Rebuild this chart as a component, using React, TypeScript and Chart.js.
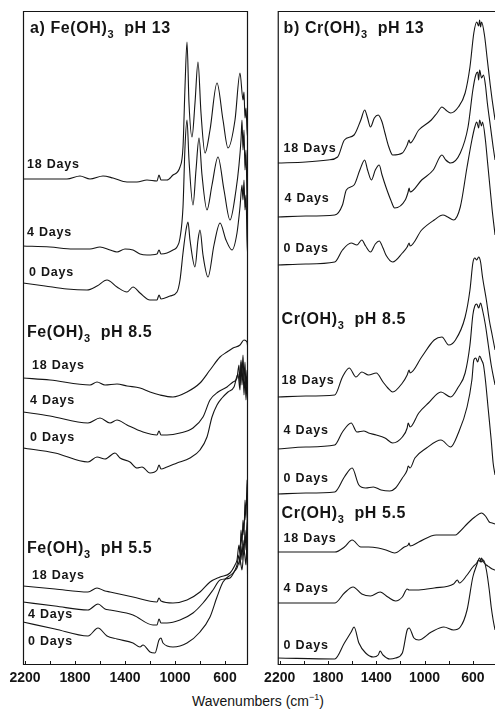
import React, { useEffect, useRef } from 'react';
import { Chart, registerables } from 'chart.js';
Chart.register(...registerables);

type Pt = [number, number];
const FONT = '"Liberation Sans", Arial, Helvetica, sans-serif';
const INK = '#151515';

// x-axis ticks (cm-1)
const tickValues = [2200, 2000, 1800, 1600, 1400, 1200, 1000, 800, 600, 400];
const tickLabels = [2200, 1800, 1400, 1000, 600];

// ---------- Panel a: Fe(OH)3 (wavenumber, offset absorbance) ----------
const feP13Day18: Pt[] = [[2216,485],[2040,485],[1864,485],[1760,488],[1680,485],[1576,488],[1496,486],[1384,482],[1304,482],[1224,484],[1144,483],[1128,489],[1112,484],[1064,484],[1016,489],[960,497],[936,517],[920,577],[904,622],[888,561],[864,527],[840,561],[816,602],[792,551],[760,511],[720,534],[664,581],[616,544],[576,516],[520,544],[480,591],[456,564],[448,572],[440,546],[432,556],[424,534],[416,524]];
const feP13Day4: Pt[] = [[2216,418],[2000,417],[1816,415],[1680,415],[1600,417],[1520,414],[1464,412],[1400,415],[1336,414],[1280,410],[1224,409],[1144,410],[1128,414],[1112,410],[1064,411],[1016,414],[984,417],[960,426],[936,457],[920,517],[904,544],[888,504],[856,459],[832,494],[808,526],[784,489],[744,454],[704,479],[656,507],[608,474],[560,444],[512,474],[488,499],[472,524],[464,544],[456,514],[448,534],[440,494],[432,514],[424,464],[416,434]];
const feP13Day0: Pt[] = [[2216,381],[2040,378],[1864,375],[1704,374],[1624,378],[1544,384],[1464,377],[1384,372],[1336,377],[1280,371],[1200,364],[1144,364],[1128,369],[1112,365],[1040,368],[984,372],[960,384],[936,411],[912,434],[896,442],[880,424],[840,397],[816,424],[800,434],[776,409],[736,387],[688,419],[640,441],[592,424],[544,414],[504,431],[480,457],[464,479],[456,464],[448,484],[440,454],[432,469],[424,424],[416,404]];
const feP85Day18: Pt[] = [[2216,286],[2000,284],[1680,279],[1624,282],[1560,279],[1464,280],[1384,278],[1280,276],[1200,272],[1120,269],[1016,267],[904,272],[800,281],[720,294],[640,307],[584,312],[536,316],[480,319],[448,324],[424,322],[416,314]];
const feP85Day4: Pt[] = [[2216,252],[2000,248],[1696,241],[1600,246],[1520,241],[1464,244],[1384,239],[1256,232],[1144,229],[1128,233],[1112,229],[1064,229],[960,231],[856,236],[776,247],[720,264],[656,272],[584,277],[536,282],[504,286],[488,299],[480,279],[472,304],[464,289],[456,309],[448,284],[440,302],[432,274],[424,294],[416,254]];
const feP85Day0: Pt[] = [[2216,216],[1960,211],[1696,202],[1624,207],[1560,205],[1480,211],[1440,206],[1360,202],[1304,196],[1264,197],[1200,191],[1144,194],[1128,199],[1112,195],[1064,197],[984,201],[880,206],[800,214],[744,227],[704,247],[664,259],[624,266],[576,272],[528,277],[496,290],[480,274],[472,302],[464,279],[456,296],[448,269],[440,289],[432,264],[424,284],[416,244]];
const feP55Day18: Pt[] = [[2216,78],[1960,75],[1696,72],[1624,76],[1560,73],[1520,72],[1336,67],[1144,62],[1128,66],[1112,63],[1016,61],[904,64],[800,72],[720,82],[640,87],[560,91],[520,99],[504,104],[488,119],[480,109],[472,134],[464,119],[456,144],[448,129],[440,164],[432,144],[424,184],[416,124]];
const feP55Day4: Pt[] = [[2216,62],[1960,58],[1696,54],[1616,60],[1560,55],[1520,54],[1336,49],[1176,39],[1144,39],[1128,45],[1112,41],[1064,41],[960,44],[856,51],[776,61],[696,74],[640,84],[560,86],[520,94],[504,99],[488,109],[480,99],[472,119],[464,104],[456,124],[448,109],[440,134],[432,114],[424,144],[416,64]];
const feP55Day0: Pt[] = [[2216,42],[1960,35],[1696,28],[1616,36],[1544,28],[1464,25],[1336,21],[1280,17],[1256,19],[1200,12],[1160,11],[1128,24],[1112,26],[1096,21],[1016,17],[904,21],[800,32],[720,47],[664,67],[616,82],[536,91],[504,96],[480,104],[464,94],[448,114],[432,99],[424,124],[416,44]];

// ---------- Panel b: Cr(OH)3 ----------
const crP13Day18: Pt[] = [[2216,501],[1984,502],[1800,504],[1720,507],[1664,524],[1584,529],[1528,544],[1496,554],[1472,546],[1448,537],[1416,546],[1384,549],[1352,542],[1328,531],[1296,517],[1264,509],[1184,511],[1144,519],[1128,524],[1120,521],[1048,534],[944,544],[896,551],[856,557],[824,554],[784,551],[720,557],[664,571],[624,597],[592,631],[568,642],[552,638],[544,644],[536,637],[528,642],[504,629],[480,604],[456,579],[440,564],[416,544]];
const crP13Day4: Pt[] = [[2216,447],[1984,448],[1744,449],[1680,459],[1648,474],[1584,479],[1536,494],[1496,504],[1472,494],[1440,484],[1408,494],[1376,499],[1352,489],[1320,477],[1280,464],[1248,456],[1160,464],[1136,472],[1128,476],[1120,472],[1024,484],[928,494],[856,509],[824,504],[784,501],[704,511],[640,537],[600,574],[576,589],[560,592],[552,584],[544,594],[528,586],[512,589],[496,579],[480,561],[456,539],[432,517],[416,504]];
const crP13Day0: Pt[] = [[2216,399],[1984,400],[1744,402],[1680,414],[1608,421],[1560,419],[1520,424],[1488,418],[1448,412],[1408,420],[1376,423],[1344,416],[1320,409],[1264,402],[1184,411],[1144,417],[1128,421],[1120,418],[1024,434],[920,444],[848,449],[808,447],[760,444],[704,457],[648,497],[608,524],[584,537],[568,542],[552,536],[544,544],[528,538],[520,542],[496,524],[480,504],[456,474],[440,454],[416,429]];
const crP85Day18: Pt[] = [[2216,267],[1984,268],[1744,269],[1680,287],[1624,296],[1568,287],[1520,292],[1464,289],[1400,291],[1344,282],[1304,276],[1264,272],[1184,281],[1144,289],[1128,294],[1120,291],[1024,307],[920,324],[856,327],[800,319],[744,324],[664,347],[624,374],[600,401],[584,406],[568,404],[552,407],[536,402],[520,387],[488,364],[464,344],[440,329],[416,314]];
const crP85Day4: Pt[] = [[2216,215],[1984,217],[1744,219],[1680,232],[1608,241],[1560,232],[1504,233],[1464,231],[1400,229],[1328,226],[1264,221],[1184,227],[1144,236],[1136,241],[1120,237],[1048,251],[968,261],[864,272],[784,267],[720,277],[664,291],[624,319],[600,349],[584,358],[568,360],[552,356],[536,361],[520,354],[496,339],[472,319],[448,299],[416,279]];
const crP85Day0: Pt[] = [[2216,170],[1984,171],[1744,172],[1664,187],[1600,196],[1544,179],[1488,176],[1424,177],[1360,174],[1288,173],[1240,176],[1184,186],[1144,194],[1136,198],[1120,196],[1080,206],[984,216],[864,224],[784,217],[720,231],[648,257],[608,284],[592,304],[576,306],[560,302],[544,308],[528,304],[512,299],[496,284],[472,254],[448,224],[432,201],[416,189]];
const crP55Day18: Pt[] = [[2216,112],[1984,112],[1744,112],[1664,117],[1600,124],[1528,117],[1464,117],[1384,116],[1320,114],[1248,111],[1168,117],[1136,119],[1128,121],[1120,118],[1048,122],[904,129],[744,129],[720,131],[640,141],[584,147],[528,151],[496,148],[464,142],[440,141],[416,140]];
const crP55Day4: Pt[] = [[2216,61],[1744,61],[1664,71],[1592,77],[1520,70],[1448,68],[1368,72],[1304,67],[1240,63],[1184,67],[1144,75],[1128,74],[1048,74],[920,76],[760,80],[728,84],[712,81],[648,89],[600,97],[568,101],[552,104],[536,102],[528,106],[512,102],[488,99],[464,97],[440,95],[416,94]];
const crP55Day0: Pt[] = [[2216,6],[1744,5],[1664,21],[1608,32],[1584,37],[1544,21],[1488,11],[1424,7],[1384,9],[1368,13],[1344,9],[1288,5],[1240,6],[1184,11],[1144,34],[1128,36],[1088,26],[1048,24],[944,32],[840,37],[760,34],[704,37],[648,54],[600,87],[568,99],[544,106],[528,102],[512,104],[488,94],[464,74],[448,57],[432,44],[416,34]];

type Seg = { t: string; sub?: boolean };
type Lbl = { x: number; y: number; segs: Seg[]; title?: boolean };

const labelsA: Lbl[] = [
  { x: 2160, y: 631, segs: [{ t: 'a) Fe(OH)' }, { t: '3', sub: true }, { t: '  pH 13' }], title: true },
  { x: 2184, y: 496, segs: [{ t: '18 Days' }] },
  { x: 2184, y: 428, segs: [{ t: '4 Days' }] },
  { x: 2168, y: 388, segs: [{ t: '0 Days' }] },
  { x: 2184, y: 327, segs: [{ t: 'Fe(OH)' }, { t: '3', sub: true }, { t: '  pH 8.5' }], title: true },
  { x: 2144, y: 295, segs: [{ t: '18 Days' }] },
  { x: 2160, y: 260, segs: [{ t: '4 Days' }] },
  { x: 2160, y: 223, segs: [{ t: '0 Days' }] },
  { x: 2184, y: 111, segs: [{ t: 'Fe(OH)' }, { t: '3', sub: true }, { t: '  pH 5.5' }], title: true },
  { x: 2144, y: 85, segs: [{ t: '18 Days' }] },
  { x: 2176, y: 46, segs: [{ t: '4 Days' }] },
  { x: 2176, y: 19, segs: [{ t: '0 Days' }] },
];
const labelsB: Lbl[] = [
  { x: 2168, y: 631, segs: [{ t: 'b) Cr(OH)' }, { t: '3', sub: true }, { t: '  pH 13' }], title: true },
  { x: 2168, y: 512, segs: [{ t: '18 Days' }] },
  { x: 2160, y: 462, segs: [{ t: '4 Days' }] },
  { x: 2168, y: 412, segs: [{ t: '0 Days' }] },
  { x: 2184, y: 340, segs: [{ t: 'Cr(OH)' }, { t: '3', sub: true }, { t: '  pH 8.5' }], title: true },
  { x: 2184, y: 280, segs: [{ t: '18 Days' }] },
  { x: 2168, y: 230, segs: [{ t: '4 Days' }] },
  { x: 2168, y: 182, segs: [{ t: '0 Days' }] },
  { x: 2184, y: 146, segs: [{ t: 'Cr(OH)' }, { t: '3', sub: true }, { t: '  pH 5.5' }], title: true },
  { x: 2168, y: 122, segs: [{ t: '18 Days' }] },
  { x: 2168, y: 72, segs: [{ t: '4 Days' }] },
  { x: 2168, y: 15, segs: [{ t: '0 Days' }] },
];

const tracesA = [feP13Day18, feP13Day4, feP13Day0, feP85Day18, feP85Day4, feP85Day0, feP55Day18, feP55Day4, feP55Day0];
const tracesB = [crP13Day18, crP13Day4, crP13Day0, crP85Day18, crP85Day4, crP85Day0, crP55Day18, crP55Day4, crP55Day0];

const CANVAS_H = 690;
const AXIS_H = 26;

type PanelDef = { left: number; width: number; padL: number; padR: number; xMin: number; traces: Pt[][]; labels: Lbl[]; rightBorder: boolean };

const panelA: PanelDef = { left: 0, width: 256, padL: 23, padR: 8, xMin: 416, traces: tracesA, labels: labelsA, rightBorder: true };
const panelB: PanelDef = { left: 258, width: 245, padL: 13, padR: 5, xMin: 400, traces: tracesB, labels: labelsB, rightBorder: false };

const framePlugin = {
  id: 'frame',
  afterDraw(chart: any) {
    const { ctx, chartArea } = chart;
    const xs = chart.scales.x;
    const { left, right, top, bottom } = chartArea;
    ctx.save();
    ctx.strokeStyle = INK;
    ctx.lineWidth = 1.2;
    ctx.beginPath();
    ctx.moveTo(right, top + 0.5);
    ctx.lineTo(left + 0.5, top + 0.5);
    ctx.lineTo(left + 0.5, bottom + 0.5);
    ctx.lineTo(right, bottom + 0.5);
    if (chart.options.plugins.frame?.rightBorder) {
      ctx.moveTo(right - 0.5, top);
      ctx.lineTo(right - 0.5, bottom + 0.5);
    }
    ctx.stroke();
    ctx.lineWidth = 1;
    ctx.beginPath();
    for (const t of xs.ticks) {
      const px = Math.round(xs.getPixelForValue(t.value)) + 0.5;
      ctx.moveTo(px, bottom);
      ctx.lineTo(px, bottom - 3);
    }
    ctx.stroke();
    ctx.restore();
  },
};

const labelPlugin = {
  id: 'traceLabels',
  afterDraw(chart: any) {
    const labels: Lbl[] = chart.options.plugins.traceLabels?.items || [];
    const { ctx } = chart;
    const xs = chart.scales.x;
    const ys = chart.scales.y;
    ctx.save();
    ctx.fillStyle = INK;
    ctx.textAlign = 'left';
    ctx.textBaseline = 'alphabetic';
    for (const l of labels) {
      let cx = xs.getPixelForValue(l.x);
      const cy = ys.getPixelForValue(l.y);
      const size = l.title ? 16 : 12.5;
      for (const s of l.segs) {
        const sz = s.sub ? 11 : size;
        ctx.font = `bold ${sz}px ${FONT}`;
        (ctx as any).letterSpacing = l.title ? '0.6px' : '0.8px';
        ctx.fillText(s.t, cx, s.sub ? cy + 5 : cy);
        cx += ctx.measureText(s.t).width;
      }
    }
    ctx.restore();
  },
};

function Panel({ def }: { def: PanelDef }) {
  const ref = useRef<HTMLCanvasElement | null>(null);
  useEffect(() => {
    if (!ref.current) return;
    const chart = new Chart(ref.current, {
      type: 'line',
      data: {
        datasets: def.traces.map((tr) => ({
          data: tr.map(([x, y]) => ({ x, y })),
          borderColor: INK,
          borderWidth: 1.1,
          pointRadius: 0,
          fill: false,
          cubicInterpolationMode: 'monotone' as const,
        })),
      },
      options: {
        responsive: false,
        animation: false,
        events: [],
        layout: { padding: { left: def.padL, right: def.padR, top: 11, bottom: 0 } },
        plugins: {
          legend: { display: false },
          tooltip: { enabled: false },
          frame: { rightBorder: def.rightBorder },
          traceLabels: { items: def.labels },
        } as any,
        scales: {
          x: {
            type: 'linear',
            reverse: true,
            min: def.xMin,
            max: 2216,
            afterBuildTicks: (scale: any) => {
              scale.ticks = tickValues.filter((v) => v >= scale.min && v <= scale.max).map((v) => ({ value: v }));
            },
            afterFit: (scale: any) => {
              scale.height = AXIS_H;
            },
            grid: { display: false, drawTicks: false },
            border: { display: false },
            ticks: {
              autoSkip: false,
              maxRotation: 0,
              padding: 6,
              color: INK,
              font: { family: FONT, size: 14, weight: 'bold' },
              callback: (v: any) => (tickLabels.includes(Number(v)) ? String(v) : ''),
            },
          },
          y: { display: false, min: 0, max: 653 },
        },
      } as any,
      plugins: [framePlugin, labelPlugin],
    });
    return () => chart.destroy();
  }, [def]);
  return (
    <div style={{ position: 'absolute', left: def.left, top: 0, width: def.width, height: CANVAS_H }}>
      <canvas ref={ref} width={def.width} height={CANVAS_H} style={{ display: 'block' }} />
    </div>
  );
}

export default function App() {
  return (
    <div style={{ position: 'absolute', left: 0, top: 0, width: 495, height: 718, overflow: 'hidden', background: '#fff' }}>
      <Panel def={panelA} />
      <Panel def={panelB} />
      <div
        style={{
          position: 'absolute',
          left: 158,
          top: 692,
          width: 200,
          textAlign: 'center',
          fontFamily: FONT,
          fontSize: 14,
          color: INK,
          lineHeight: '18px',
        }}
      >
        Wavenumbers (cm<sup style={{ fontSize: 9, lineHeight: 0 }}>−1</sup>)
      </div>
    </div>
  );
}
